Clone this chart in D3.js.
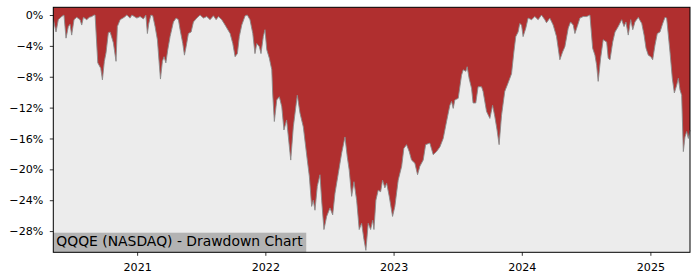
<!DOCTYPE html>
<html>
<head>
<meta charset="utf-8">
<script src="https://cdn.jsdelivr.net/npm/d3@7"></script>
<style>
  body { margin: 0; background: #fff; }
  .axis text { font-family: "DejaVu Sans", sans-serif; font-size: 11.1px; fill: #000; }
  .axis path { display: none; }
  .axis line { stroke: #000; stroke-width: 0.8; }
</style>
</head>
<body>
<div id="chart"></div>
<script>
// dates as decimal years, drawdown in percent
var dates = [
  2020.348, 2020.369, 2020.387, 2020.413, 2020.431, 2020.447, 2020.465, 2020.478, 2020.491, 2020.509,
  2020.530, 2020.556, 2020.569, 2020.582, 2020.608, 2020.628, 2020.647, 2020.665, 2020.673, 2020.694,
  2020.717, 2020.730, 2020.745, 2020.758, 2020.776, 2020.790, 2020.815, 2020.836, 2020.846, 2020.868,
  2020.899, 2020.920, 2020.945, 2020.959, 2020.998, 2021.023, 2021.049, 2021.068, 2021.080, 2021.091,
  2021.107, 2021.122, 2021.140, 2021.158, 2021.171, 2021.182, 2021.197, 2021.210, 2021.224, 2021.239,
  2021.257, 2021.283, 2021.304, 2021.322, 2021.335, 2021.356, 2021.369, 2021.382, 2021.400, 2021.421,
  2021.439, 2021.465, 2021.491, 2021.517, 2021.543, 2021.569, 2021.595, 2021.616, 2021.634, 2021.660,
  2021.686, 2021.725, 2021.746, 2021.764, 2021.782, 2021.797, 2021.816, 2021.842, 2021.859, 2021.880,
  2021.902, 2021.919, 2021.933, 2021.953, 2021.966, 2021.984, 2021.997, 2022.011, 2022.031, 2022.050,
  2022.057, 2022.070, 2022.089, 2022.109, 2022.128, 2022.145, 2022.166, 2022.198, 2022.218, 2022.249,
  2022.270, 2022.296, 2022.327, 2022.343, 2022.361, 2022.374, 2022.387, 2022.405, 2022.426, 2022.439,
  2022.457, 2022.478, 2022.504, 2022.525, 2022.543, 2022.569, 2022.595, 2022.621, 2022.639, 2022.654,
  2022.673, 2022.691, 2022.712, 2022.732, 2022.751, 2022.769, 2022.784, 2022.802, 2022.821, 2022.837,
  2022.847, 2022.862, 2022.880, 2022.899, 2022.914, 2022.932, 2022.946, 2022.966, 2022.992, 2023.010,
  2023.036, 2023.063, 2023.080, 2023.101, 2023.122, 2023.140, 2023.166, 2023.187, 2023.205, 2023.231,
  2023.250, 2023.283, 2023.309, 2023.335, 2023.361, 2023.387, 2023.413, 2023.439, 2023.452, 2023.465,
  2023.478, 2023.504, 2023.530, 2023.543, 2023.564, 2023.574, 2023.589, 2023.608, 2023.620, 2023.641,
  2023.659, 2023.686, 2023.698, 2023.725, 2023.751, 2023.772, 2023.790, 2023.807, 2023.823, 2023.842,
  2023.867, 2023.893, 2023.920, 2023.938, 2023.953, 2023.971, 2023.984, 2023.998, 2024.010, 2024.031,
  2024.049, 2024.076, 2024.101, 2024.127, 2024.153, 2024.179, 2024.192, 2024.218, 2024.244, 2024.270,
  2024.296, 2024.317, 2024.335, 2024.361, 2024.379, 2024.400, 2024.413, 2024.431, 2024.452, 2024.478,
  2024.504, 2024.530, 2024.551, 2024.569, 2024.582, 2024.594, 2024.613, 2024.633, 2024.660, 2024.672,
  2024.686, 2024.707, 2024.725, 2024.750, 2024.777, 2024.795, 2024.810, 2024.828, 2024.847, 2024.863,
  2024.880, 2024.906, 2024.933, 2024.951, 2024.966, 2024.984, 2025.003, 2025.018, 2025.036, 2025.054,
  2025.075, 2025.096, 2025.114, 2025.127, 2025.140, 2025.153, 2025.171, 2025.187, 2025.205, 2025.218,
  2025.231, 2025.244, 2025.257, 2025.270, 2025.283, 2025.296, 2025.309
];
var drawdown = [
  -0.5, -2.2, -0.6, -0.2, 0, -3.0, -1.5, -1.2, -2.6, -0.6,
  -0.3, -0.6, -1.3, -0.3, -0.6, -0.3, -0.2, 0, 0, -6.2,
  -6.9, -8.4, -6.0, -4.9, -2.3, -2.2, -3.6, -6.0, -1.5, -0.6,
  -0.3, 0, -0.4, 0, -0.4, -0.2, -0.5, 0, -2.4, -1.1,
  0, -0.1, -1.5, -3.2, -6.0, -8.3, -6.0, -5.4, -6.2, -4.5,
  -2.8, -0.9, -0.4, -0.6, -1.9, -3.7, -5.2, -4.1, -2.4, -2.2,
  -0.9, -0.4, 0, -0.4, -0.2, -0.6, -0.1, -0.6, -0.2, -0.6,
  -1.3, -2.4, -3.7, -5.4, -5.0, -2.8, -1.3, -0.1, 0, -0.6,
  -2.4, -5.0, -3.7, -4.1, -5.0, -2.8, -1.9, -4.5, -5.6, -7.1,
  -10.1, -13.8, -11.0, -10.6, -11.9, -14.9, -13.6, -18.8, -14.5, -10.4,
  -12.7, -14.5, -18.8, -20.9, -24.8, -24.0, -25.3, -22.2, -20.7, -24.0,
  -27.8, -26.1, -25.0, -25.9, -23.1, -20.5, -17.9, -15.8, -18.4, -20.1,
  -23.5, -21.6, -24.0, -27.8, -27.0, -29.1, -30.5, -27.0, -27.8, -26.6,
  -27.8, -24.0, -22.7, -22.9, -21.4, -22.4, -21.8, -23.5, -26.1, -24.8,
  -21.4, -19.6, -17.3, -16.8, -17.7, -18.8, -19.2, -20.7, -19.6, -18.8,
  -16.8, -16.6, -18.1, -17.7, -17.1, -16.0, -13.8, -11.7, -11.2, -12.1,
  -11.0, -10.8, -7.8, -7.1, -7.3, -6.7, -8.2, -9.5, -11.4, -11.4,
  -9.3, -9.3, -9.9, -12.5, -13.4, -11.7, -13.2, -14.9, -16.8, -13.0,
  -9.9, -8.8, -7.6, -4.8, -2.8, -2.2, -1.1, -1.3, -2.8, -1.7,
  -0.4, -0.6, -0.2, -0.6, 0, -0.6, -1.0, -0.4, -1.3, -2.8,
  -5.8, -4.8, -4.1, -1.7, -0.9, -1.3, -2.4, -1.5, -0.4, -0.2,
  -0.2, 0, -4.3, -5.2, -6.5, -8.6, -5.6, -3.2, -3.5, -5.6,
  -5.8, -3.5, -2.2, -1.5, -0.6, -1.5, -0.9, -2.6, -0.6, -1.9,
  -0.9, -0.3, -1.1, -2.6, -4.3, -5.2, -5.4, -5.8, -3.9, -2.4,
  -2.2, -1.1, -0.3, -0.4, -2.6, -4.8, -8.2, -10.1, -9.1, -8.2,
  -9.7, -10.4, -17.7, -15.8, -15.1, -16.0, -14.9
];
var yTicks = [0, -4, -8, -12, -16, -20, -24, -28];
var title = "QQQE (NASDAQ) - Drawdown Chart";

var margin = { top: 7.3, right: 10, bottom: 27.7, left: 53.3 },
    width = 700 - margin.left - margin.right,
    height = 280 - margin.top - margin.bottom;

function toDate(t) {
  var y = Math.floor(t);
  var a = Date.UTC(y, 0, 1), b = Date.UTC(y + 1, 0, 1);
  return new Date(a + (t - y) * (b - a));
}

var data = dates.map(function(d, i) { return { date: toDate(d), value: drawdown[i] }; });

var svg = d3.select("#chart")
  .append("svg")
  .attr("width", 700)
  .attr("height", 280)
  .append("g")
  .attr("transform", "translate(" + margin.left + "," + margin.top + ")");

var x = d3.scaleUtc()
  .domain(d3.extent(data, function(d) { return d.date; }))
  .range([0, width]);

var y = d3.scaleLinear()
  .domain([-30.75, 1])
  .range([height, 0]);

// background
svg.append("rect")
  .attr("width", width)
  .attr("height", height)
  .attr("fill", "#ececec");

// drawdown area, filled from the top of the axes down to the curve
var area = d3.area()
  .x(function(d) { return x(d.date); })
  .y0(0)
  .y1(function(d) { return y(d.value); });

svg.append("path")
  .datum(data)
  .attr("fill", "#b02f2f")
  .attr("d", area);

var line = d3.line()
  .x(function(d) { return x(d.date); })
  .y(function(d) { return y(d.value); });

svg.append("path")
  .datum(data)
  .attr("fill", "none")
  .attr("stroke", "#8a8a8a")
  .attr("stroke-width", 0.9)
  .attr("d", line);

// title box
var label = svg.append("g");
var labelText = label.append("text")
  .attr("x", 3)
  .attr("y", height - 5.8)
  .style("font-family", "'DejaVu Sans', sans-serif")
  .style("font-size", "13.9px")
  .attr("fill", "#000")
  .text(title);
var bb = labelText.node().getBBox();
label.insert("rect", "text")
  .attr("x", 0)
  .attr("y", height - 19.6)
  .attr("width", bb.width + 6)
  .attr("height", 19.6)
  .attr("fill", "#b3b3b3");

// axes
svg.append("g")
  .attr("class", "x axis")
  .attr("transform", "translate(0," + height + ")")
  .call(d3.axisBottom(x)
    .ticks(d3.utcYear.every(1))
    .tickFormat(d3.utcFormat("%Y"))
    .tickSize(3.5)
    .tickPadding(7.5));

svg.append("g")
  .attr("class", "y axis")
  .call(d3.axisLeft(y)
    .tickValues(yTicks)
    .tickFormat(function(d) { return (d < 0 ? "\u2212" : "") + Math.abs(d) + "%"; })
    .tickSize(3.5)
    .tickPadding(6.5));

// frame
svg.append("rect")
  .attr("width", width)
  .attr("height", height)
  .attr("fill", "none")
  .attr("stroke", "#000")
  .attr("stroke-width", 1);
</script>
</body>
</html>
